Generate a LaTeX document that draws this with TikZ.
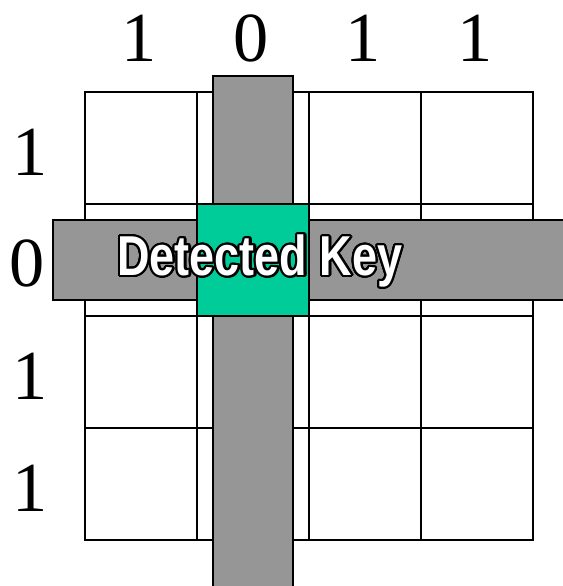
\documentclass[tikz,border=0pt]{standalone}
\usepackage{fontspec}
\setmainfont{Liberation Serif}
\newfontfamily\keyfont[FakeStretch=0.8]{Liberation Sans Bold}
\usepackage{xcolor}
\usepackage[copies]{contour}
\usepackage{tikz}
\usetikzlibrary{positioning}
\definecolor{barGray}{RGB}{150, 150, 150}
\definecolor{hitGreen}{RGB}{0, 204, 153}
\contourlength{1.5pt}
\contournumber{24}

\begin{document}
\begin{tikzpicture}[
        x=0.025cm, y=-0.025cm,
        cellbox/.style={draw=black, line width=1.2pt, fill=white},
        bar/.style={draw=black, line width=1.2pt, fill=barGray},
        hit/.style={draw=black, line width=1.2pt, fill=hitGreen},
        bit/.style={font=\fontsize{50}{50}\selectfont, inner sep=0pt}
    ]
    \useasboundingbox (0,0) rectangle (562,586);
    % 4x4 key grid
    \foreach \c in {0,...,3}
        \foreach \r in {0,...,3}
            \draw[cellbox] (85+112*\c,92+112*\r) rectangle ++(112,112);
    % scan bars
    \draw[bar] (213,76) rectangle (293,600);
    \draw[bar] (53,220) rectangle (580,300);
    \draw[hit] (197,204) rectangle (309,316);
    % column and row bits
    \node[bit] (col1) at (139,38) {1};
    \node[bit] (col2) at (251,38) {0};
    \node[bit] (col3) at (363,38) {1};
    \node[bit] (col4) at (475,38) {1};
    \node[bit] (row1) at (30,152) {1};
    \node[bit] (row2) at (27,263) {0};
    \node[bit] (row3) at (30,376) {1};
    \node[bit] (row4) at (30,488) {1};
    \node[font=\keyfont\fontsize{40}{40}\selectfont, inner sep=0pt] (key) at (260,262)
        {\contour{black}{\textcolor{white}{Detected Key}}};
\end{tikzpicture}
\end{document}
